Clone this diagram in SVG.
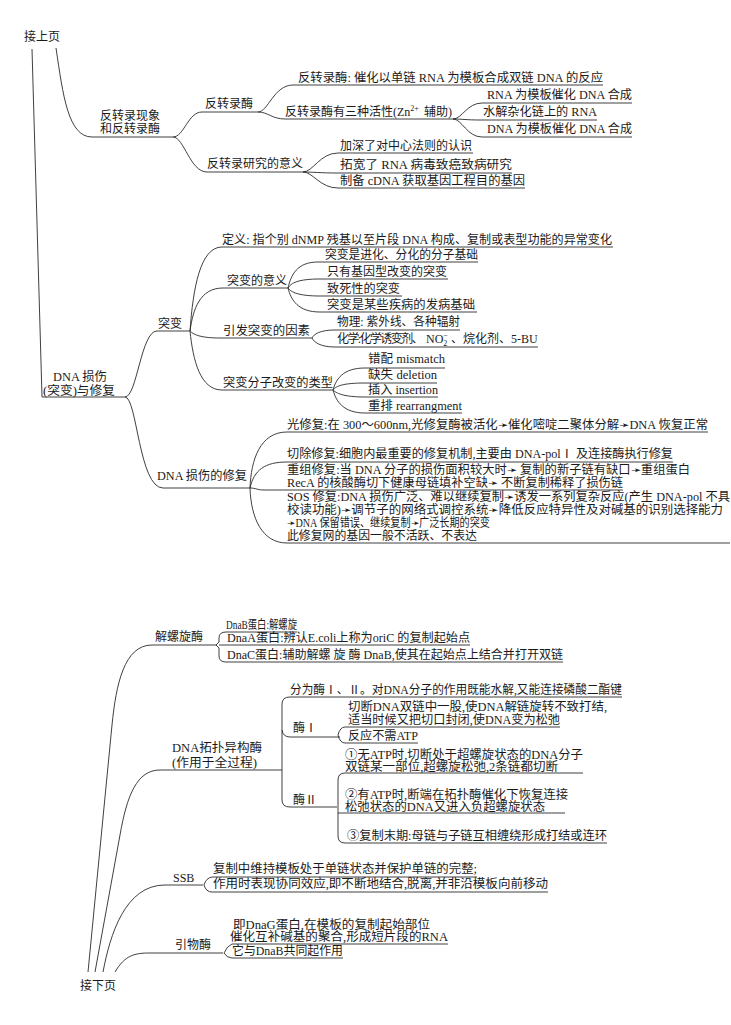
<svg xmlns="http://www.w3.org/2000/svg" width="731" height="1025" viewBox="0 0 731 1025">
<style>
.t{font-family:"Liberation Serif","Noto Sans CJK SC",serif;font-size:12px;fill:#1a1a1a}
.c{fill:none;stroke:#2a2a2a;stroke-width:0.9}
</style>
<rect width="731" height="1025" fill="#fff"/>
<g id="connectors" class="c">
<path d="M56 48 C63 95,68 137,92 137 L173 137"/>
<path d="M32 49 L42 397 L125 397"/>
<path d="M173 137 C184 137,188 112,202 112 L258 112"/>
<path d="M173 137 C184 137,190 172,207 172 L303 172"/>
<path d="M258 112 C268 112,274 85,293 85 L603 85"/>
<path d="M258 112 C268 112,272 119,285 119 L453 119"/>
<path d="M453 119 C462 119,467 103,482 103 L632 103"/>
<path d="M453 119 C462 119,467 120,480 120 L597 120"/>
<path d="M453 119 C462 119,467 137,482 137 L632 137"/>
<path d="M303 172 C313 172,320 153,338 153 L473 153"/>
<path d="M303 172 C313 172,320 173,338 173 L512 173"/>
<path d="M303 172 C313 172,320 188,338 188 L525 188"/>
<path d="M125 397 C137 397,141 331,157 331 L190 331"/>
<path d="M125 397 C137 397,139 488,163 488 L250 488"/>
<path d="M190 331 C193 289,200 247,222 247 L613 247"/>
<path d="M190 331 C193 309,200 288,223 288 L288 288"/>
<path d="M190 331 C193 334,199 338,220 338 L312 338"/>
<path d="M190 331 C193 360,200 390,222 390 L333 390"/>
<path d="M288 288 C291 275,297 262,318 262 L478 262"/>
<path d="M288 288 C291 283,298 279,320 279 L448 279"/>
<path d="M288 288 C291 292,298 296,320 296 L402 296"/>
<path d="M288 288 C291 300,298 312,320 312 L477 312"/>
<path d="M312 338 C314 334,320 330,335 330 L460 330"/>
<path d="M312 338 C314 342,320 347,335 347 L538 347"/>
<path d="M333 390 C336 379,343 368,365 368 L445 368"/>
<path d="M333 390 C336 386,343 383,365 383 L437 383"/>
<path d="M333 390 C336 393,343 397,365 397 L438 397"/>
<path d="M333 390 C336 401,343 413,365 413 L462 413"/>
<path d="M250 488 C251 460,260 432,287 432 L708 432"/>
<path d="M250 488 C254 470,265 462,287 462 L673 462"/>
<path d="M250 488 C256 488,257 490,264 490 L623 490"/>
<path d="M250 488 C251 518,262 543,287 543 L730 543"/>
<path d="M88 972 L112 725 C116 685,124 645,152 645 L217 645"/>
<path d="M95 972 L120 835 C127 795,137 770,160 770 L282 770"/>
<path d="M103 972 C110 935,125 885,165 885 L203 885"/>
<path d="M115 972 C125 955,135 953,150 953 L223 953"/>
<path d="M226 632 Q219 632 219 638 L219 642 L216 645 L219 648 L219 656 Q219 662 226 662 L563 662"/>
<path d="M226 632 L297 632"/>
<path d="M219 645 L470 645"/>
<path d="M290 697 Q282 697 282 704 L282 800 Q282 807 290 807 L337 807"/>
<path d="M290 697 L622 697"/>
<path d="M282 730 Q283 737 290 737 L340 737"/>
<path d="M345 727 Q340 727 338 735 Q340 743 345 743 L418 743"/>
<path d="M345 727 L560 727"/>
<path d="M345 773 Q338 773 338 780 L338 836 Q338 843 345 843 L607 843"/>
<path d="M345 773 L583 773"/>
<path d="M338 813 L565 813"/>
<path d="M212 877 Q206 878 204 885 Q206 892 212 892 L548 892"/>
<path d="M212 877 L477 877"/>
<path d="M232 944 Q227 946 224 953 Q227 958 232 958 L343 958"/>
<path d="M232 944 L448 944"/>
</g>
<g id="n-prev"><text class="t" x="24" y="41">接上页</text></g>
<g id="n-rt"><text class="t" x="100" y="120">反转录现象</text><text class="t" x="100" y="133">和反转录酶</text></g>
<g id="n-rtase"><text class="t" x="205" y="108">反转录酶</text></g>
<g id="n-rtase-def"><text class="t" x="298" y="82" textLength="305" lengthAdjust="spacingAndGlyphs">反转录酶: 催化以单链 RNA 为模板合成双链 DNA 的反应</text></g>
<g id="n-rtase-act"><text class="t" x="285" y="116">反转录酶有三种活性(Zn<tspan font-size="8" dy="-5">2+</tspan><tspan x="424" dy="5">辅助)</tspan></text></g>
<g id="n-act1"><text class="t" x="487" y="99" textLength="145" lengthAdjust="spacingAndGlyphs">RNA 为模板催化 DNA 合成</text></g>
<g id="n-act2"><text class="t" x="483" y="116" textLength="114" lengthAdjust="spacingAndGlyphs">水解杂化链上的 RNA</text></g>
<g id="n-act3"><text class="t" x="487" y="133" textLength="145" lengthAdjust="spacingAndGlyphs">DNA 为模板催化 DNA 合成</text></g>
<g id="n-sig"><text class="t" x="207" y="168">反转录研究的意义</text></g>
<g id="n-sig1"><text class="t" x="340" y="150" textLength="132" lengthAdjust="spacingAndGlyphs">加深了对中心法则的认识</text></g>
<g id="n-sig2"><text class="t" x="340" y="169" textLength="172" lengthAdjust="spacingAndGlyphs">拓宽了 RNA 病毒致癌致病研究</text></g>
<g id="n-sig3"><text class="t" x="340" y="185" textLength="185" lengthAdjust="spacingAndGlyphs">制备 cDNA 获取基因工程目的基因</text></g>
<g id="n-dmg"><text class="t" x="53" y="381" textLength="54" lengthAdjust="spacingAndGlyphs">DNA 损伤</text><text class="t" x="43" y="395" textLength="72" lengthAdjust="spacingAndGlyphs">(突变)与修复</text></g>
<g id="n-mut"><text class="t" x="158" y="328">突变</text></g>
<g id="n-def"><text class="t" x="222" y="244" textLength="390" lengthAdjust="spacingAndGlyphs">定义: 指个别 dNMP 残基以至片段 DNA 构成、复制或表型功能的异常变化</text></g>
<g id="n-meaning"><text class="t" x="227" y="285">突变的意义</text></g>
<g id="n-m1"><text class="t" x="325" y="259" textLength="153" lengthAdjust="spacingAndGlyphs">突变是进化、分化的分子基础</text></g>
<g id="n-m2"><text class="t" x="327" y="276" textLength="120" lengthAdjust="spacingAndGlyphs">只有基因型改变的突变</text></g>
<g id="n-m3"><text class="t" x="327" y="293" textLength="73" lengthAdjust="spacingAndGlyphs">致死性的突变</text></g>
<g id="n-m4"><text class="t" x="327" y="309" textLength="148" lengthAdjust="spacingAndGlyphs">突变是某些疾病的发病基础</text></g>
<g id="n-cause"><text class="t" x="223" y="335" textLength="87" lengthAdjust="spacingAndGlyphs">引发突变的因素</text></g>
<g id="n-c1"><text class="t" x="337" y="326" textLength="123" lengthAdjust="spacingAndGlyphs">物理: 紫外线、各种辐射</text></g>
<g id="n-c2"><text class="t" x="337" y="343"><tspan letter-spacing="-1.6">化学:化学诱变剂、</tspan><tspan x="426">NO</tspan><tspan font-size="8" dy="3">2</tspan><tspan font-size="8" dx="-4" dy="-8">−</tspan><tspan x="451" dy="5">、烷化剂、5-BU</tspan></text></g>
<g id="n-type"><text class="t" x="223" y="387" textLength="110" lengthAdjust="spacingAndGlyphs">突变分子改变的类型</text></g>
<g id="n-t1"><text class="t" x="368" y="363" textLength="77" lengthAdjust="spacingAndGlyphs">错配 mismatch</text></g>
<g id="n-t2"><text class="t" x="368" y="379" textLength="69" lengthAdjust="spacingAndGlyphs">缺失 deletion</text></g>
<g id="n-t3"><text class="t" x="368" y="394" textLength="70" lengthAdjust="spacingAndGlyphs">插入 insertion</text></g>
<g id="n-t4"><text class="t" x="368" y="410" textLength="94" lengthAdjust="spacingAndGlyphs">重排 rearrangment</text></g>
<g id="n-repair"><text class="t" x="157" y="480" textLength="90" lengthAdjust="spacingAndGlyphs">DNA 损伤的修复</text></g>
<g id="n-r1"><text class="t" x="287" y="429" textLength="421" lengthAdjust="spacingAndGlyphs">光修复:在 300～600nm,光修复酶被活化➛催化嘧啶二聚体分解➛DNA 恢复正常</text></g>
<g id="n-r2"><text class="t" x="287" y="458" textLength="386" lengthAdjust="spacingAndGlyphs">切除修复:细胞内最重要的修复机制,主要由 DNA-polⅠ 及连接酶执行修复</text></g>
<g id="n-r3"><text class="t" x="287" y="474" textLength="403" lengthAdjust="spacingAndGlyphs">重组修复:当 DNA 分子的损伤面积较大时➛ 复制的新子链有缺口➛重组蛋白</text><text class="t" x="287" y="487" textLength="336" lengthAdjust="spacingAndGlyphs">RecA 的核酸酶切下健康母链填补空缺➛ 不断复制稀释了损伤链</text></g>
<g id="n-r4"><text class="t" x="287" y="501" textLength="443" lengthAdjust="spacingAndGlyphs">SOS 修复:DNA 损伤广泛、难以继续复制➛诱发一系列复杂反应(产生 DNA-pol 不具</text><text class="t" x="287" y="514" textLength="436" lengthAdjust="spacingAndGlyphs">校读功能)➛调节子的网络式调控系统➛降低反应特异性及对碱基的识别选择能力</text><text class="t" x="287" y="527" textLength="203" lengthAdjust="spacingAndGlyphs">➛DNA 保留错误、继续复制➛广泛长期的突变</text><text class="t" x="287" y="540" textLength="190" lengthAdjust="spacingAndGlyphs">此修复网的基因一般不活跃、不表达</text></g>
<g id="n-helicase"><text class="t" x="155" y="641">解螺旋酶</text></g>
<g id="n-h1"><text class="t" x="226" y="629" textLength="71" lengthAdjust="spacingAndGlyphs">DnaB蛋白:解螺旋</text></g>
<g id="n-h2"><text class="t" x="227" y="642" textLength="243" lengthAdjust="spacingAndGlyphs">DnaA蛋白:辨认E.coli上称为oriC 的复制起始点</text></g>
<g id="n-h3"><text class="t" x="227" y="659" textLength="336" lengthAdjust="spacingAndGlyphs">DnaC蛋白:辅助解螺 旋 酶 DnaB,使其在起始点上结合并打开双链</text></g>
<g id="n-topo"><text class="t" x="172" y="752" textLength="90" lengthAdjust="spacingAndGlyphs">DNA拓扑异构酶</text><text class="t" x="172" y="767" textLength="85" lengthAdjust="spacingAndGlyphs">(作用于全过程)</text></g>
<g id="n-topo-def"><text class="t" x="290" y="694" textLength="332" lengthAdjust="spacingAndGlyphs">分为酶Ⅰ、Ⅱ。对DNA分子的作用既能水解,又能连接磷酸二酯键</text></g>
<g id="n-topo1"><text class="t" x="293" y="732">酶Ⅰ</text></g>
<g id="n-topo1a"><text class="t" x="348" y="711" textLength="259" lengthAdjust="spacingAndGlyphs">切断DNA双链中一股,使DNA解链旋转不致打结,</text><text class="t" x="348" y="724" textLength="212" lengthAdjust="spacingAndGlyphs">适当时候又把切口封闭,使DNA变为松弛</text></g>
<g id="n-topo1b"><text class="t" x="348" y="740" textLength="70" lengthAdjust="spacingAndGlyphs">反应不需ATP</text></g>
<g id="n-topo2"><text class="t" x="293" y="804">酶Ⅱ</text></g>
<g id="n-topo2a"><text class="t" x="345" y="759" textLength="238" lengthAdjust="spacingAndGlyphs">①无ATP时,切断处于超螺旋状态的DNA分子</text><text class="t" x="345" y="771" textLength="213" lengthAdjust="spacingAndGlyphs">双链某一部位,超螺旋松弛,2条链都切断</text></g>
<g id="n-topo2b"><text class="t" x="345" y="799" textLength="223" lengthAdjust="spacingAndGlyphs">②有ATP时,断端在拓扑酶催化下恢复连接</text><text class="t" x="345" y="811" textLength="200" lengthAdjust="spacingAndGlyphs">松弛状态的DNA又进入负超螺旋状态</text></g>
<g id="n-topo2c"><text class="t" x="347" y="840" textLength="260" lengthAdjust="spacingAndGlyphs">③复制末期:母链与子链互相缠绕形成打结或连环</text></g>
<g id="n-ssb"><text class="t" x="173" y="882">SSB</text></g>
<g id="n-ssb1"><text class="t" x="213" y="873" textLength="264" lengthAdjust="spacingAndGlyphs">复制中维持模板处于单链状态并保护单链的完整;</text></g>
<g id="n-ssb2"><text class="t" x="213" y="888" textLength="335" lengthAdjust="spacingAndGlyphs">作用时表现协同效应,即不断地结合,脱离,并非沿模板向前移动</text></g>
<g id="n-primase"><text class="t" x="175" y="949">引物酶</text></g>
<g id="n-p1"><text class="t" x="233" y="929" textLength="197" lengthAdjust="spacingAndGlyphs">即DnaG蛋白,在模板的复制起始部位</text><text class="t" x="230" y="941" textLength="218" lengthAdjust="spacingAndGlyphs">催化互补碱基的聚合,形成短片段的RNA</text></g>
<g id="n-p2"><text class="t" x="232" y="955" textLength="111" lengthAdjust="spacingAndGlyphs">它与DnaB共同起作用</text></g>
<g id="n-next"><text class="t" x="80" y="990">接下页</text></g>
</svg>
